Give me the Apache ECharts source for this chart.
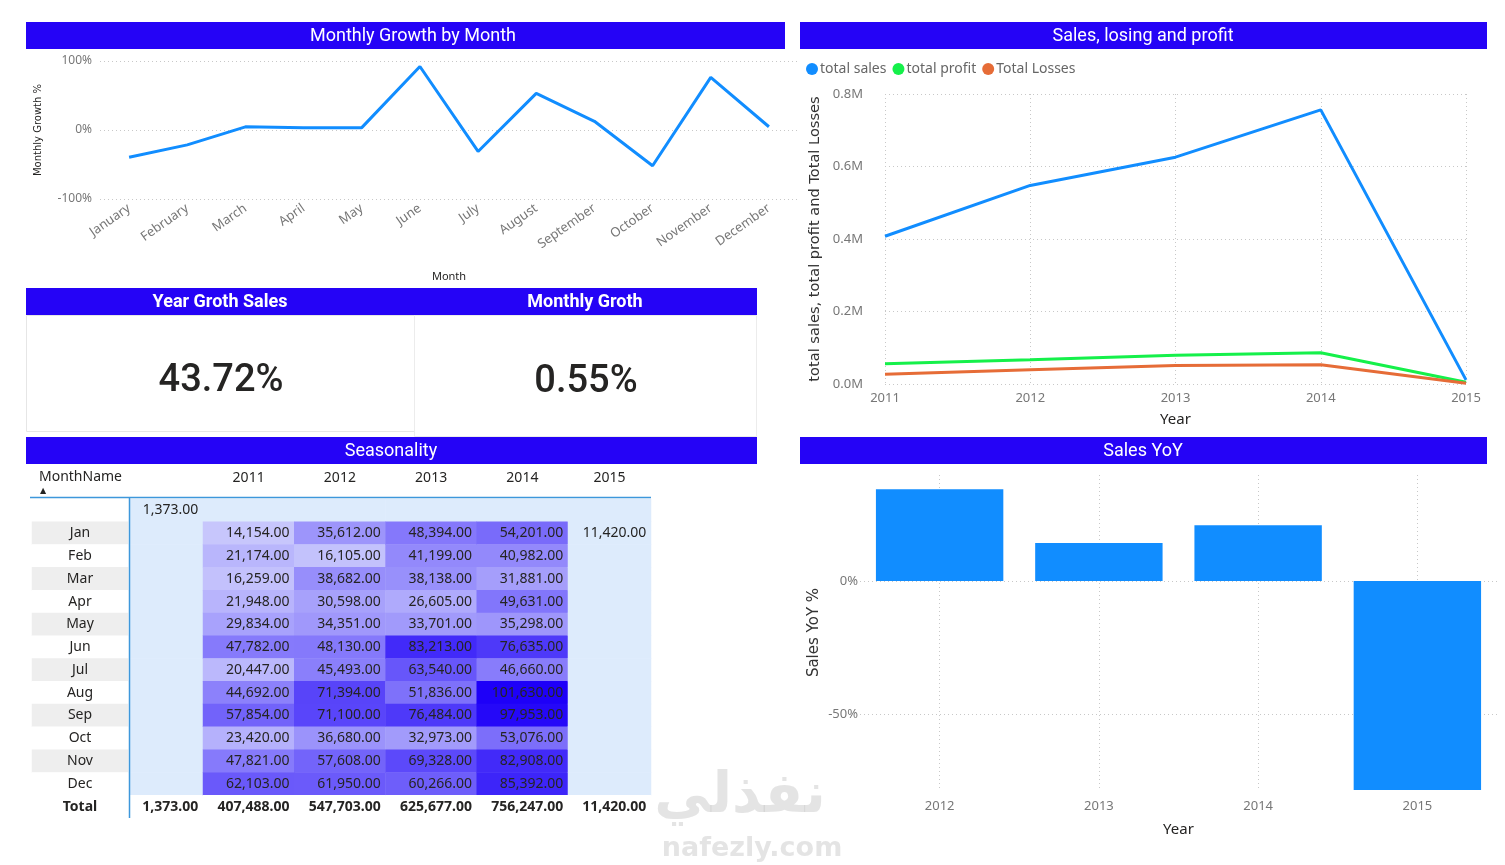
<!DOCTYPE html>
<html>
<head>
<meta charset="utf-8">
<script src="https://cdn.jsdelivr.net/npm/echarts@6/dist/echarts.min.js"></script>
<style>
html, body { margin: 0; padding: 0; background: #fff; }
#dash { width: 1505px; height: 865px; }
</style>
</head>
<body>
<div id="dash"></div>
<script>
// monthly growth chart
var months = ['January', 'February', 'March', 'April', 'May', 'June', 'July',
    'August', 'September', 'October', 'November', 'December'];
var monthlyGrowth = [-0.395, -0.216, 0.046, 0.031, 0.034, 0.920, -0.311, 0.530, 0.126, -0.518, 0.763, 0.047];

// sales / profit / losses by year
var years = ['2011', '2012', '2013', '2014', '2015'];
var totalSales = [407488, 547703, 625677, 756247, 11420];
var totalProfit = [56000, 67000, 79000, 86000, 5000];
var totalLosses = [27000, 39000, 51000, 53000, 2000];

// sales year over year
var yoyYears = ['2012', '2013', '2014', '2015'];
var salesYoY = [0.344, 0.142, 0.209, -0.985];

// cards
var yearGrowthSales = '43.72%';
var monthlyGroth = '0.55%';

// seasonality table
var tableRows = ['', 'Jan', 'Feb', 'Mar', 'Apr', 'May', 'Jun', 'Jul', 'Aug', 'Sep', 'Oct', 'Nov', 'Dec', 'Total'];
var heatYears = ['2011', '2012', '2013', '2014'];
var lastYear = ['2015'];
var sales2011 = [14154, 21174, 16259, 21948, 29834, 47782, 20447, 44692, 57854, 23420, 47821, 62103];
var sales2012 = [35612, 16105, 38682, 30598, 34351, 48130, 45493, 71394, 71100, 36680, 57608, 61950];
var sales2013 = [48394, 41199, 38138, 26605, 33701, 83213, 63540, 51836, 76484, 32973, 69328, 60266];
var sales2014 = [54201, 40982, 31881, 49631, 35298, 76635, 46660, 101630, 97953, 53076, 82908, 85392];
var sales2015 = [11420, null, null, null, null, null, null, null, null, null, null, null];
var blankYearSales = 1373;
var heatTotals = [407488, 547703, 625677, 756247];
var total2015 = 11420;

var TITLE_BLUE = '#2503F6';
var LIGHT_BG = '#DDEBFC';
var TEXT = '#252423';
var GREY = '#777';
var FONT = 'Noto Sans';

function fmt(v) {
    return v.toLocaleString('en-US', {minimumFractionDigits: 2, maximumFractionDigits: 2});
}

// blue header bars
function titleBar(x, y, w, h, texts) {
    var els = [{
        type: 'rect', shape: {x: x, y: y, width: w, height: h},
        style: {fill: TITLE_BLUE}, silent: true
    }];
    texts.forEach(function (t) {
        els.push({
            type: 'text', x: t.cx, y: y + h / 2 + 1,
            style: {
                text: t.text, fill: '#fff', font: (t.bold ? 'bold ' : '') + '18px Roboto',
                align: 'center', verticalAlign: 'middle'
            }, silent: true
        });
    });
    return els;
}

var graphics = []
    .concat(titleBar(26, 22, 759, 27, [{text: 'Monthly Growth by Month', cx: 413}]))
    .concat(titleBar(800, 22, 687, 27, [{text: 'Sales, losing and profit', cx: 1143}]))
    .concat(titleBar(26, 288, 731, 27, [{text: 'Year Groth Sales', cx: 220, bold: true},
                                        {text: 'Monthly Groth', cx: 585, bold: true}]))
    .concat(titleBar(26, 437, 731, 27, [{text: 'Seasonality', cx: 391}]))
    .concat(titleBar(800, 437, 687, 27, [{text: 'Sales YoY', cx: 1143}]));

// cards
graphics.push(
    {type: 'rect', shape: {x: 26.5, y: 315.5, width: 388, height: 116}, style: {fill: '#fff', stroke: '#E6E6E6'}, silent: true},
    {type: 'rect', shape: {x: 414.5, y: 315.5, width: 342, height: 121}, style: {fill: '#fff', stroke: '#ECECEC'}, silent: true},
    {type: 'text', x: 221, y: 381, style: {text: yearGrowthSales, font: '500 38px Roboto', fill: TEXT, align: 'center', verticalAlign: 'middle'}, silent: true},
    {type: 'text', x: 586, y: 382, style: {text: monthlyGroth, font: '500 38px Roboto', fill: TEXT, align: 'center', verticalAlign: 'middle'}, silent: true}
);

// table header and rules
graphics.push(
    {type: 'text', x: 39, y: 477, style: {text: 'MonthName', font: '14px "Noto Sans"', fill: TEXT, verticalAlign: 'middle'}, silent: true},
    {type: 'text', x: 43, y: 491, style: {text: '\u25B2', font: '8px "DejaVu Sans"', fill: TEXT, align: 'center', verticalAlign: 'middle'}, silent: true},
    {type: 'line', shape: {x1: 30, y1: 497.5, x2: 651, y2: 497.5}, style: {stroke: '#3D97DB', lineWidth: 1.5}, silent: true, z: 10},
    {type: 'line', shape: {x1: 129.5, y1: 497, x2: 129.5, y2: 818}, style: {stroke: '#3D97DB', lineWidth: 1.5}, silent: true, z: 10}
);

// watermark
graphics.push(
    {type: 'text', x: 740, y: 797, style: {text: 'نفذلي', font: 'bold 56px "DejaVu Sans"', fill: 'rgba(195,195,195,0.45)', align: 'center', verticalAlign: 'middle'}, silent: true, z: 20},
    {type: 'text', x: 752, y: 849, style: {text: 'nafezly.com', font: 'bold 27px "DejaVu Sans"', fill: 'rgba(195,195,195,0.45)', align: 'center', verticalAlign: 'middle'}, silent: true, z: 20}
);

// ---- table data ----
var rowLabelData = tableRows.map(function (r, i) {
    var grey = (i % 2 === 1 && i <= 12);
    return {
        value: [0, i, 0],
        itemStyle: {color: grey ? '#EEEEEE' : '#fff'},
        label: {fontWeight: i === 13 ? 'bold' : 'normal'}
    };
});

var blankColData = [];
for (var r = 0; r <= 12; r++) {
    blankColData.push([0, r, r === 0 ? blankYearSales : 0]);
}

var heatBgData = [];
for (var c = 0; c < heatYears.length; c++) {
    heatBgData.push([c, 0, 0]);
}

var heatData = [];
[sales2011, sales2012, sales2013, sales2014].forEach(function (arr, c) {
    arr.forEach(function (v, m) {
        if (v != null) heatData.push([c, m + 1, v]);
    });
});

var data2015 = [];
for (var r3 = 0; r3 <= 12; r3++) {
    var v15 = r3 === 0 ? null : sales2015[r3 - 1];
    data2015.push([0, r3, v15 == null ? 0 : v15]);
}

var heatTotalData = heatTotals.map(function (v, c) { return [c, 13, v]; });

var cellLabel = {
    show: true, position: 'insideRight', distance: 5,
    fontFamily: FONT, fontSize: 14, color: TEXT,
    formatter: function (p) { return p.value[2] ? fmt(p.value[2]) : ''; }
};
var totalLabel = Object.assign({}, cellLabel, {fontWeight: 'bold'});

function hiddenCat(data, gridIndex, extra) {
    var a = {
        type: 'category', gridIndex: gridIndex, data: data,
        axisLine: {show: false}, axisTick: {show: false},
        axisLabel: {show: false}, splitLine: {show: false}, splitArea: {show: false}
    };
    for (var k in extra) a[k] = extra[k];
    return a;
}
var headerLabels = {
    position: 'top',
    axisLabel: {show: true, color: TEXT, fontSize: 14, margin: 14, fontFamily: FONT}
};

var dotted = {show: true, lineStyle: {type: [1, 3], color: '#C8C8C8', width: 1}};

var option = {
    animation: false,
    backgroundColor: '#fff',
    textStyle: {fontFamily: FONT},
    graphic: {elements: graphics},
    legend: {
        left: 806, top: 62, padding: 0, itemGap: 6,
        icon: 'circle', itemWidth: 12, itemHeight: 12,
        textStyle: {color: '#666', fontSize: 14, fontFamily: FONT, padding: [0, 0, 0, -3]},
        data: ['total sales', 'total profit', 'Total Losses']
    },
    visualMap: {
        type: 'continuous', show: false, seriesIndex: 9, dimension: 2,
        min: 0, max: 101630,
        inRange: {color: ['#E2E6FD', '#1E00F8']}
    },
    grid: [
        {left: 100, top: 61, width: 698, height: 138},
        {left: 885, top: 94, width: 581, height: 290},
        {left: 860, top: 475, width: 637, height: 315},
        {left: 32, top: 499, width: 96, height: 319},
        {left: 130, top: 499, width: 73, height: 319},
        {left: 203, top: 499, width: 365, height: 319},
        {left: 568, top: 499, width: 83, height: 319}
    ],
    xAxis: [
        {
            type: 'category', gridIndex: 0, data: months,
            axisLine: {show: false}, axisTick: {show: false},
            axisLabel: {rotate: 35, interval: 0, color: GREY, fontSize: 13, margin: 8},
            name: 'Month', nameLocation: 'middle', nameGap: 72,
            nameTextStyle: {color: TEXT, fontSize: 11}
        },
        {
            type: 'category', gridIndex: 1, data: years, boundaryGap: false,
            axisLine: {show: false}, axisTick: {show: false},
            axisLabel: {color: GREY, fontSize: 13, margin: 8},
            splitLine: dotted,
            name: 'Year', nameLocation: 'middle', nameGap: 28,
            nameTextStyle: {color: TEXT, fontSize: 15}
        },
        {
            type: 'category', gridIndex: 2, data: yoyYears,
            axisLine: {show: false}, axisTick: {show: false, alignWithLabel: true},
            axisLabel: {color: GREY, fontSize: 13, margin: 10},
            splitLine: {show: true, alignWithLabel: true, lineStyle: {type: [1, 3], color: '#C8C8C8', width: 1}},
            name: 'Year', nameLocation: 'middle', nameGap: 32,
            nameTextStyle: {color: TEXT, fontSize: 15}
        },
        hiddenCat(['r'], 3),
        hiddenCat([''], 4),
        hiddenCat(heatYears, 5, headerLabels),
        hiddenCat(lastYear, 6, headerLabels)
    ],
    yAxis: [
        {
            type: 'value', gridIndex: 0, min: -1, max: 1, interval: 1,
            axisLabel: {color: GREY, fontSize: 12, margin: 8,
                formatter: function (v) { return Math.round(v * 100) + '%'; }},
            splitLine: dotted,
            name: 'Monthly Growth %', nameLocation: 'middle', nameGap: 57,
            nameTextStyle: {color: TEXT, fontSize: 10, fontFamily: 'DejaVu Sans'}
        },
        {
            type: 'value', gridIndex: 1, min: 0, max: 800000, interval: 200000,
            axisLabel: {color: GREY, fontSize: 13, margin: 22,
                formatter: function (v) { return (v / 1e6).toFixed(1) + 'M'; }},
            splitLine: dotted,
            name: 'total sales, total profit and Total Losses', nameLocation: 'middle', nameGap: 62,
            nameTextStyle: {color: '#333', fontSize: 14.6, fontFamily: 'DejaVu Sans'}
        },
        {
            type: 'value', gridIndex: 2, min: -0.786, max: 0.398,
            axisLabel: {color: GREY, fontSize: 13, margin: 2, customValues: [-0.5, 0],
                formatter: function (v) { return Math.round(v * 100) + '%'; }},
            axisTick: {show: false, customValues: [-0.5, 0]},
            splitLine: dotted,
            name: 'Sales YoY %', nameLocation: 'middle', nameGap: 38,
            nameTextStyle: {color: '#333', fontSize: 15, fontFamily: 'DejaVu Sans'}
        },
        hiddenCat(tableRows, 3, {inverse: true}),
        hiddenCat(tableRows, 4, {inverse: true}),
        hiddenCat(tableRows, 5, {inverse: true}),
        hiddenCat(tableRows, 6, {inverse: true})
    ],
    series: [
        // 0
        {
            name: 'Monthly Growth %', type: 'line', xAxisIndex: 0, yAxisIndex: 0,
            data: monthlyGrowth, showSymbol: false,
            lineStyle: {color: '#118DFF', width: 3}, itemStyle: {color: '#118DFF'}
        },
        // 1-3
        {
            name: 'total sales', type: 'line', xAxisIndex: 1, yAxisIndex: 1,
            data: totalSales, showSymbol: false,
            lineStyle: {color: '#118DFF', width: 3}, itemStyle: {color: '#118DFF'}
        },
        {
            name: 'total profit', type: 'line', xAxisIndex: 1, yAxisIndex: 1,
            data: totalProfit, showSymbol: false,
            lineStyle: {color: '#15F04A', width: 3}, itemStyle: {color: '#15F04A'}
        },
        {
            name: 'Total Losses', type: 'line', xAxisIndex: 1, yAxisIndex: 1,
            data: totalLosses, showSymbol: false,
            lineStyle: {color: '#E66C37', width: 3}, itemStyle: {color: '#E66C37'}
        },
        // 4
        {
            name: 'Sales YoY %', type: 'bar', xAxisIndex: 2, yAxisIndex: 2,
            data: salesYoY, barWidth: '80%', clip: true,
            itemStyle: {color: '#118DFF'}
        },
        // 5 row labels
        {
            type: 'heatmap', xAxisIndex: 3, yAxisIndex: 3, data: rowLabelData,
            label: {show: true, fontFamily: FONT, fontSize: 14, color: TEXT,
                formatter: function (p) { return tableRows[p.value[1]]; }}
        },
        // 6 blank year column
        {
            type: 'heatmap', xAxisIndex: 4, yAxisIndex: 4, data: blankColData,
            itemStyle: {color: LIGHT_BG}, label: cellLabel
        },
        // 7 blank year total
        {
            type: 'heatmap', xAxisIndex: 4, yAxisIndex: 4, data: [[0, 13, blankYearSales]],
            itemStyle: {color: '#fff'}, label: totalLabel
        },
        // 8 empty first row of 2011-2014
        {
            type: 'heatmap', xAxisIndex: 5, yAxisIndex: 5, data: heatBgData,
            itemStyle: {color: LIGHT_BG}, label: {show: false}
        },
        // 9 coloured cells
        {
            type: 'heatmap', xAxisIndex: 5, yAxisIndex: 5, data: heatData,
            label: cellLabel
        },
        // 10 totals 2011-2014
        {
            type: 'heatmap', xAxisIndex: 5, yAxisIndex: 5, data: heatTotalData,
            itemStyle: {color: '#fff'}, label: totalLabel
        },
        // 11 2015 column (not coloured)
        {
            type: 'heatmap', xAxisIndex: 6, yAxisIndex: 6, data: data2015,
            itemStyle: {color: LIGHT_BG}, label: cellLabel
        },
        // 12 2015 total
        {
            type: 'heatmap', xAxisIndex: 6, yAxisIndex: 6, data: [[0, 13, total2015]],
            itemStyle: {color: '#fff'}, label: totalLabel
        }
    ]
};

var chart = echarts.init(document.getElementById('dash'));
chart.setOption(option);
</script>
</body>
</html>
